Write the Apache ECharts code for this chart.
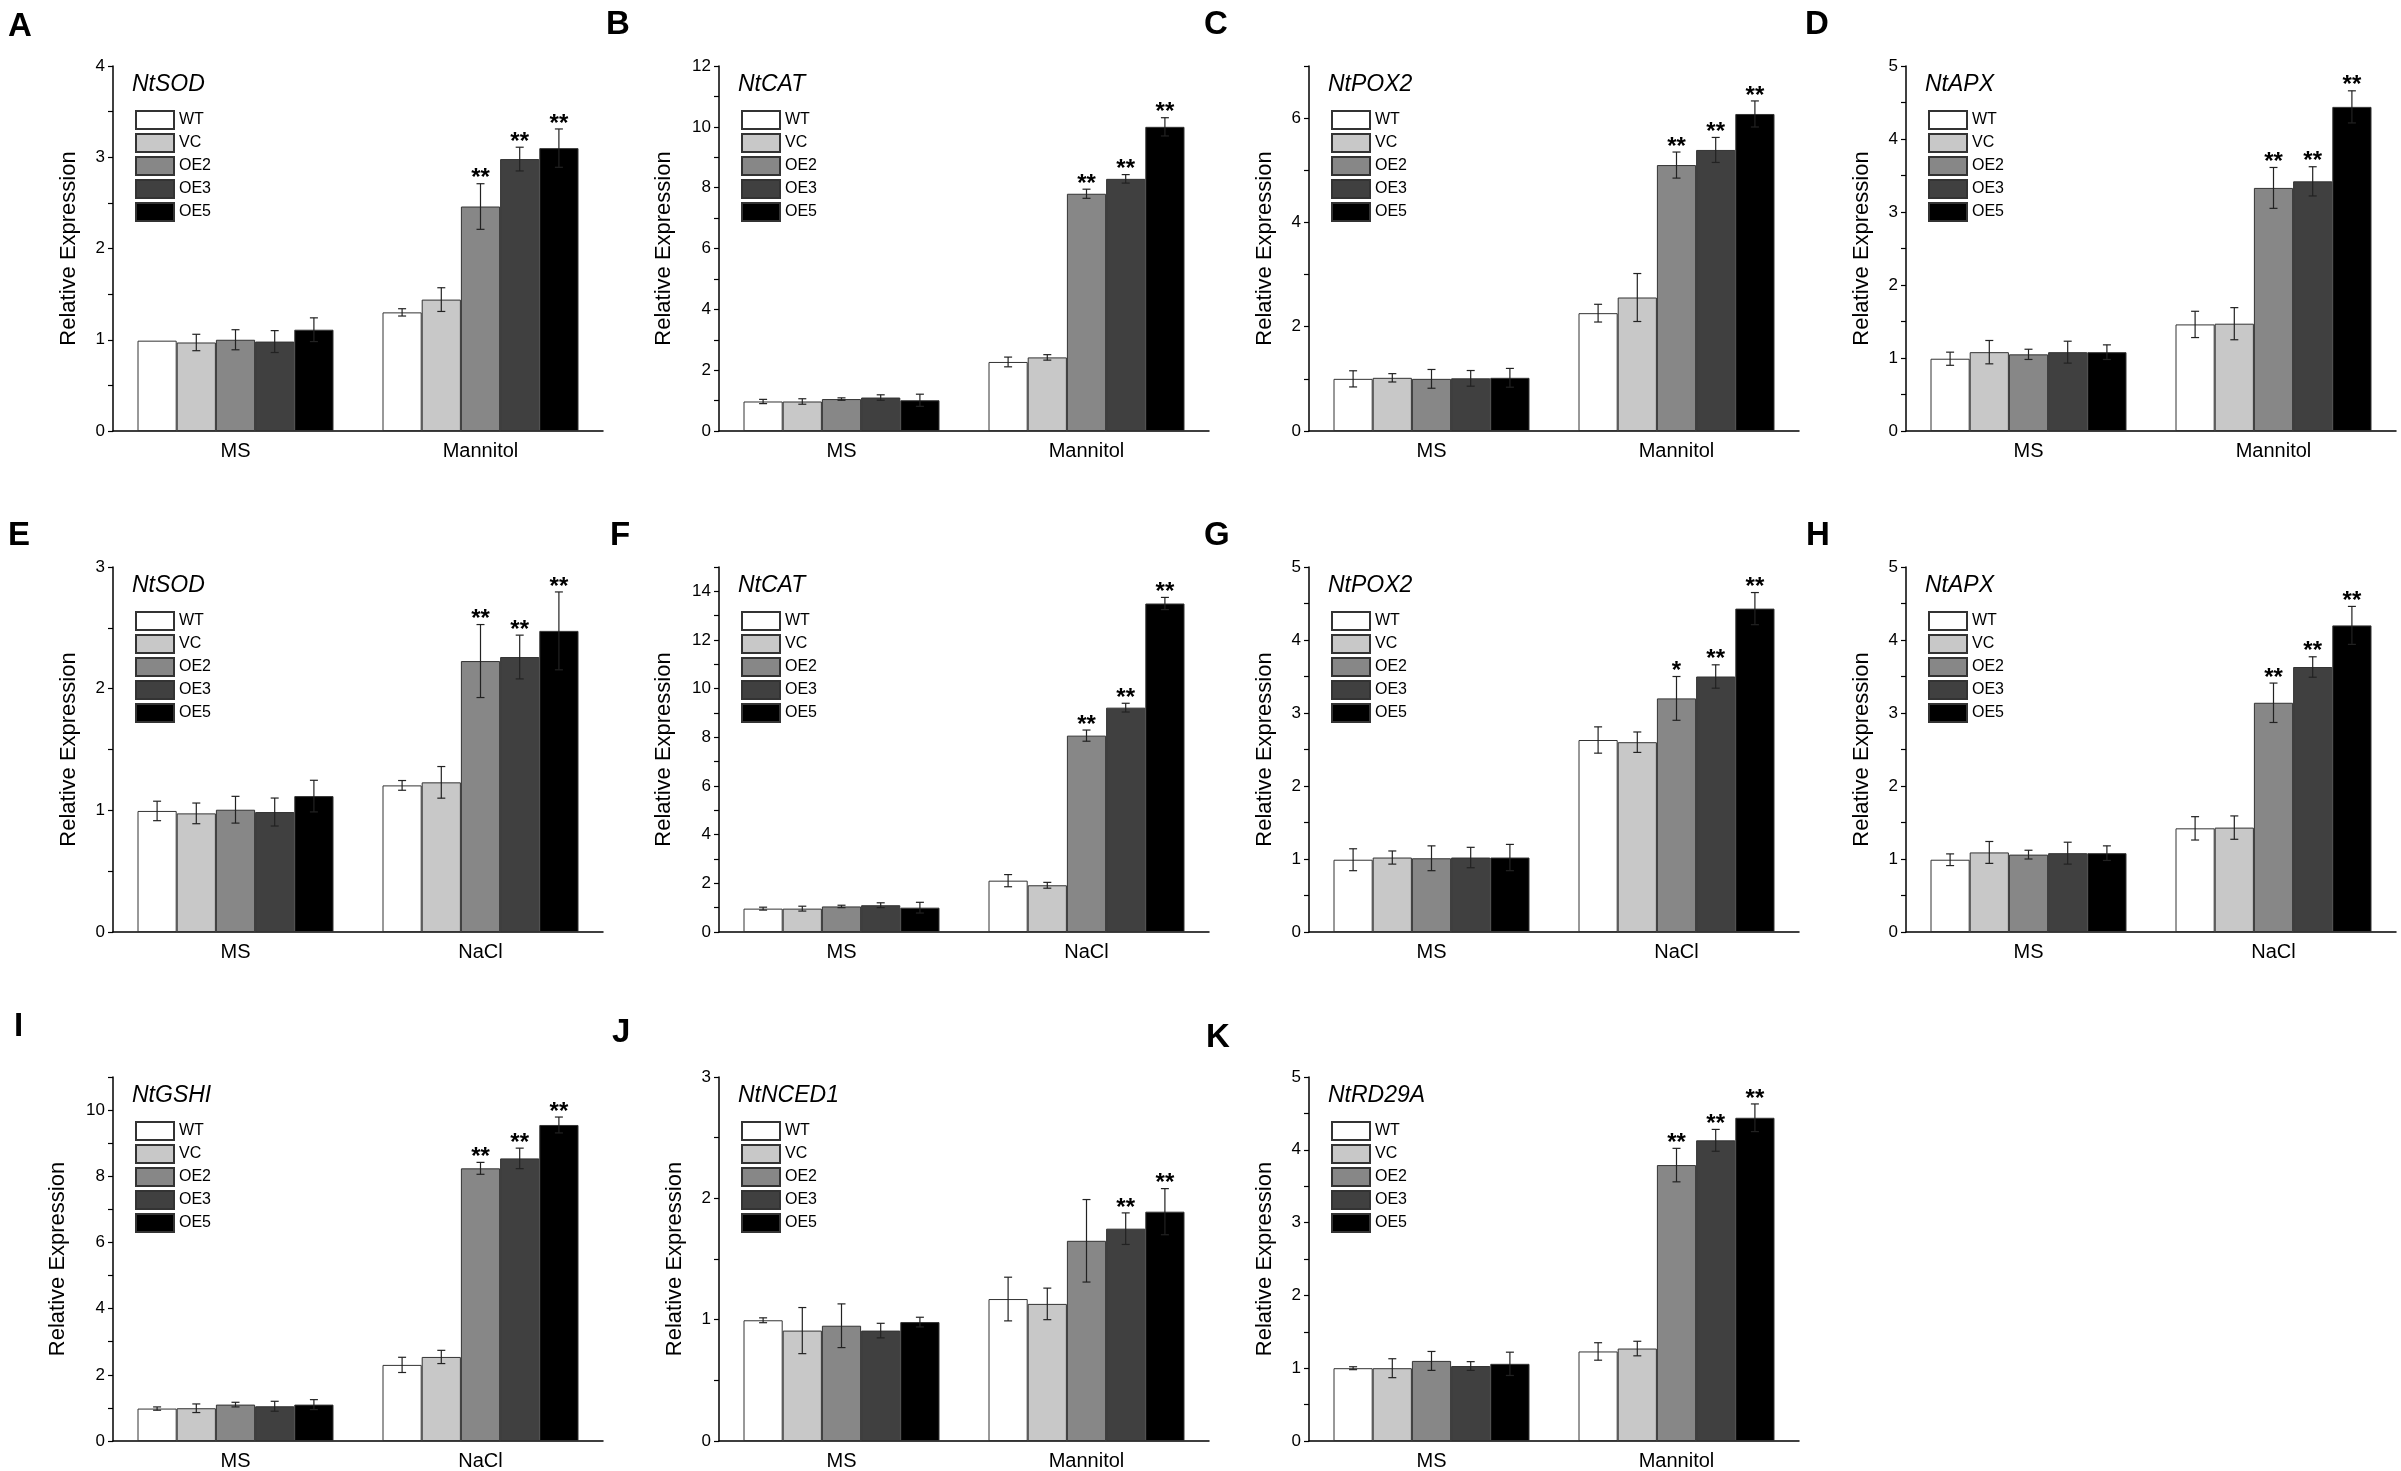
<!DOCTYPE html>
<html>
<head>
<meta charset="utf-8">
<title>Relative expression panels</title>
<script src="https://cdn.jsdelivr.net/npm/echarts@6/dist/echarts.min.js"></script>
<style>
  html, body { margin: 0; padding: 0; background: #fff; }
  #main { width: 2401px; height: 1471px; }
</style>
</head>
<body>
<div id="main"></div>
<script>
// lines and the order of the bars
var groups = ['WT', 'VC', 'OE2', 'OE3', 'OE5'];
var barColors = ['#ffffff', '#c8c8c8', '#878787', '#404040', '#000000'];

// each panel: [MS values, stress values] in the order of groups
var aMean = [[0.99, 0.97, 1.00, 0.98, 1.11], [1.30, 1.44, 2.46, 2.98, 3.10]];
var aErr  = [[0.00, 0.09, 0.11, 0.12, 0.13], [0.04, 0.13, 0.25, 0.13, 0.21]];
var aSig  = [['', '', '', '', ''], ['', '', '**', '**', '**']];

var bMean = [[0.97, 0.97, 1.05, 1.10, 1.01], [2.27, 2.42, 7.80, 8.29, 10.0]];
var bErr  = [[0.07, 0.09, 0.04, 0.09, 0.20], [0.16, 0.09, 0.15, 0.14, 0.30]];
var bSig  = [['', '', '', '', ''], ['', '', '**', '**', '**']];

var cMean = [[1.00, 1.02, 1.00, 1.01, 1.02], [2.26, 2.56, 5.10, 5.39, 6.08]];
var cErr  = [[0.155, 0.08, 0.18, 0.15, 0.18], [0.17, 0.46, 0.25, 0.24, 0.25]];
var cSig  = [['', '', '', '', ''], ['', '', '**', '**', '**']];

var dMean = [[0.99, 1.08, 1.05, 1.08, 1.08], [1.46, 1.47, 3.33, 3.42, 4.44]];
var dErr  = [[0.09, 0.16, 0.07, 0.15, 0.10], [0.18, 0.22, 0.28, 0.20, 0.22]];
var dSig  = [['', '', '', '', ''], ['', '', '**', '**', '**']];

var eMean = [[0.995, 0.975, 1.005, 0.986, 1.117], [1.205, 1.23, 2.227, 2.26, 2.475]];
var eErr  = [[0.08, 0.085, 0.11, 0.115, 0.13], [0.04, 0.13, 0.30, 0.18, 0.32]];
var eSig  = [['', '', '', '', ''], ['', '', '**', '**', '**']];

var fMean = [[0.96, 0.96, 1.05, 1.10, 1.00], [2.11, 1.92, 8.07, 9.22, 13.5]];
var fErr  = [[0.06, 0.10, 0.05, 0.10, 0.22], [0.25, 0.12, 0.23, 0.18, 0.25]];
var fSig  = [['', '', '', '', ''], ['', '', '**', '**', '**']];

var gMean = [[0.99, 1.02, 1.01, 1.02, 1.02], [2.63, 2.60, 3.20, 3.50, 4.43]];
var gErr  = [[0.15, 0.09, 0.17, 0.14, 0.18], [0.18, 0.14, 0.30, 0.16, 0.22]];
var gSig  = [['', '', '', '', ''], ['', '', '*', '**', '**']];

var hMean = [[0.99, 1.09, 1.06, 1.08, 1.08], [1.42, 1.43, 3.14, 3.63, 4.20]];
var hErr  = [[0.08, 0.15, 0.06, 0.15, 0.10], [0.16, 0.16, 0.27, 0.14, 0.26]];
var hSig  = [['', '', '', '', ''], ['', '', '**', '**', '**']];

var iMean = [[0.98, 0.99, 1.10, 1.05, 1.10], [2.30, 2.54, 8.24, 8.54, 9.55]];
var iErr  = [[0.05, 0.13, 0.07, 0.15, 0.15], [0.23, 0.20, 0.18, 0.31, 0.24]];
var iSig  = [['', '', '', '', ''], ['', '', '**', '**', '**']];

var jMean = [[0.995, 0.91, 0.95, 0.91, 0.98], [1.17, 1.13, 1.65, 1.75, 1.89]];
var jErr  = [[0.02, 0.19, 0.18, 0.06, 0.04], [0.18, 0.13, 0.34, 0.13, 0.19]];
var jSig  = [['', '', '', '', ''], ['', '', '', '**', '**']];

var kMean = [[1.00, 1.00, 1.10, 1.03, 1.06], [1.23, 1.27, 3.79, 4.13, 4.44]];
var kErr  = [[0.02, 0.13, 0.13, 0.06, 0.16], [0.12, 0.10, 0.23, 0.15, 0.19]];
var kSig  = [['', '', '', '', ''], ['', '', '**', '**', '**']];

var mannitolCats = ['MS', 'Mannitol'];
var naclCats = ['MS', 'NaCl'];

var font = '"Liberation Sans", Arial, Helvetica, sans-serif';

// panel layout (pixels) and axis ranges
var colLeft = [113, 719, 1309, 1906];
var rowTop = [66, 567, 1077];
var plotW = 490, plotH = 365;

var panels = [
    {letter: 'A', gene: 'NtSOD',   cats: mannitolCats, mean: aMean, err: aErr, sig: aSig, max: 4,  step: 0.5, major: 1, col: 0, row: 0, lx: 8,    ly: 10},
    {letter: 'B', gene: 'NtCAT',   cats: mannitolCats, mean: bMean, err: bErr, sig: bSig, max: 12, step: 1,   major: 2, col: 1, row: 0, lx: 606,  ly: 8},
    {letter: 'C', gene: 'NtPOX2',  cats: mannitolCats, mean: cMean, err: cErr, sig: cSig, max: 7,  step: 1,   major: 2, col: 2, row: 0, lx: 1204, ly: 8},
    {letter: 'D', gene: 'NtAPX',   cats: mannitolCats, mean: dMean, err: dErr, sig: dSig, max: 5,  step: 0.5, major: 1, col: 3, row: 0, lx: 1805, ly: 8},
    {letter: 'E', gene: 'NtSOD',   cats: naclCats,     mean: eMean, err: eErr, sig: eSig, max: 3,  step: 0.5, major: 1, col: 0, row: 1, lx: 8,    ly: 519},
    {letter: 'F', gene: 'NtCAT',   cats: naclCats,     mean: fMean, err: fErr, sig: fSig, max: 15, step: 1,   major: 2, col: 1, row: 1, lx: 610,  ly: 519},
    {letter: 'G', gene: 'NtPOX2',  cats: naclCats,     mean: gMean, err: gErr, sig: gSig, max: 5,  step: 0.5, major: 1, col: 2, row: 1, lx: 1204, ly: 519},
    {letter: 'H', gene: 'NtAPX',   cats: naclCats,     mean: hMean, err: hErr, sig: hSig, max: 5,  step: 0.5, major: 1, col: 3, row: 1, lx: 1806, ly: 519},
    {letter: 'I', gene: 'NtGSHI',  cats: naclCats,     mean: iMean, err: iErr, sig: iSig, max: 11, step: 1,   major: 2, col: 0, row: 2, lx: 14,   ly: 1010},
    {letter: 'J', gene: 'NtNCED1', cats: mannitolCats, mean: jMean, err: jErr, sig: jSig, max: 3,  step: 0.5, major: 1, col: 1, row: 2, lx: 612,  ly: 1016},
    {letter: 'K', gene: 'NtRD29A', cats: mannitolCats, mean: kMean, err: kErr, sig: kSig, max: 5,  step: 0.5, major: 1, col: 2, row: 2, lx: 1206, ly: 1021}
];

// error bars + asterisks, placed on the same slots as the bars
function makeErrorRenderer(p) {
    return function (params, api) {
        var cat = api.value(0), g = api.value(1), mean = api.value(2), err = api.value(3);
        var bandW = api.size([1, 0])[0];
        var barW = bandW * 0.8 / groups.length;
        var center = api.coord([cat, mean]);
        var x = center[0] - bandW * 0.4 + barW * (g + 0.5);
        var yTop = api.coord([cat, mean + err])[1];
        var yBot = api.coord([cat, mean - err])[1];
        var cap = 4;
        var lineStyle = {stroke: '#222', lineWidth: 1.2};
        var children = [];
        if (err > 0) {
            children.push(
                {type: 'line', shape: {x1: x, y1: yTop, x2: x, y2: yBot}, style: lineStyle},
                {type: 'line', shape: {x1: x - cap, y1: yTop, x2: x + cap, y2: yTop}, style: lineStyle},
                {type: 'line', shape: {x1: x - cap, y1: yBot, x2: x + cap, y2: yBot}, style: lineStyle}
            );
        }
        var s = p.sig[cat][g];
        if (s) {
            children.push({
                type: 'text',
                style: {
                    text: s, x: x, y: yTop - 5,
                    align: 'center', verticalAlign: 'middle',
                    fontSize: 24, fontWeight: 'bold', fontFamily: font, fill: '#000'
                }
            });
        }
        return {type: 'group', children: children};
    };
}

var option = {
    backgroundColor: '#fff',
    animation: false,
    title: [], grid: [], xAxis: [], yAxis: [], legend: [], series: []
};

panels.forEach(function (p, k) {
    var left = colLeft[p.col], top = rowTop[p.row];
    var wideLabels = p.max >= 10;

    option.grid.push({left: left, top: top, width: plotW, height: plotH});

    option.title.push({
        text: p.letter, left: p.lx, top: p.ly, padding: 0,
        textStyle: {fontSize: 33, fontWeight: 'bold', color: '#000', fontFamily: font}
    });
    option.title.push({
        text: p.gene, left: left + 19, top: top + 7, padding: 0,
        textStyle: {fontSize: 23, fontStyle: 'italic', fontWeight: 'normal', color: '#000', fontFamily: font}
    });

    option.xAxis.push({
        type: 'category', gridIndex: k, data: p.cats,
        axisLine: {show: true, lineStyle: {color: '#000', width: 1.5}},
        axisTick: {show: false},
        axisLabel: {color: '#000', fontSize: 20, margin: 10, fontFamily: font},
        splitLine: {show: false}
    });

    option.yAxis.push({
        type: 'value', gridIndex: k, min: 0, max: p.max, interval: p.step,
        name: 'Relative Expression', nameLocation: 'middle', nameGap: wideLabels ? 44 : 33,
        nameTextStyle: {color: '#000', fontSize: 22, fontFamily: font},
        axisLine: {show: true, lineStyle: {color: '#000', width: 1.5}},
        axisTick: {show: true, length: 5, lineStyle: {color: '#000', width: 1.2}},
        axisLabel: {
            color: '#000', fontSize: 17, margin: 8, fontFamily: font,
            formatter: function (v) {
                var r = v / p.major;
                return Math.abs(r - Math.round(r)) < 1e-6 ? String(v) : '';
            }
        },
        splitLine: {show: false}
    });

    option.legend.push({
        data: groups, orient: 'vertical', icon: 'rect',
        left: left + 22, top: top + 44,
        itemWidth: 38, itemHeight: 18, itemGap: 3,
        selectedMode: false, padding: 0,
        textStyle: {color: '#000', fontSize: 16, fontFamily: font}
    });

    groups.forEach(function (name, g) {
        option.series.push({
            type: 'bar', name: name, xAxisIndex: k, yAxisIndex: k,
            data: [p.mean[0][g], p.mean[1][g]],
            barGap: '0%', barCategoryGap: '20%',
            itemStyle: {color: barColors[g], borderColor: '#333', borderWidth: 1},
            emphasis: {disabled: true}, silent: true
        });
    });

    var items = [];
    for (var c = 0; c < 2; c++) {
        for (var g = 0; g < groups.length; g++) {
            items.push([c, g, p.mean[c][g], p.err[c][g]]);
        }
    }
    option.series.push({
        type: 'custom', xAxisIndex: k, yAxisIndex: k,
        data: items, encode: {x: 0, y: 2},
        renderItem: makeErrorRenderer(p),
        z: 10, silent: true
    });
});

var chart = echarts.init(document.getElementById('main'));
chart.setOption(option);
</script>
</body>
</html>
